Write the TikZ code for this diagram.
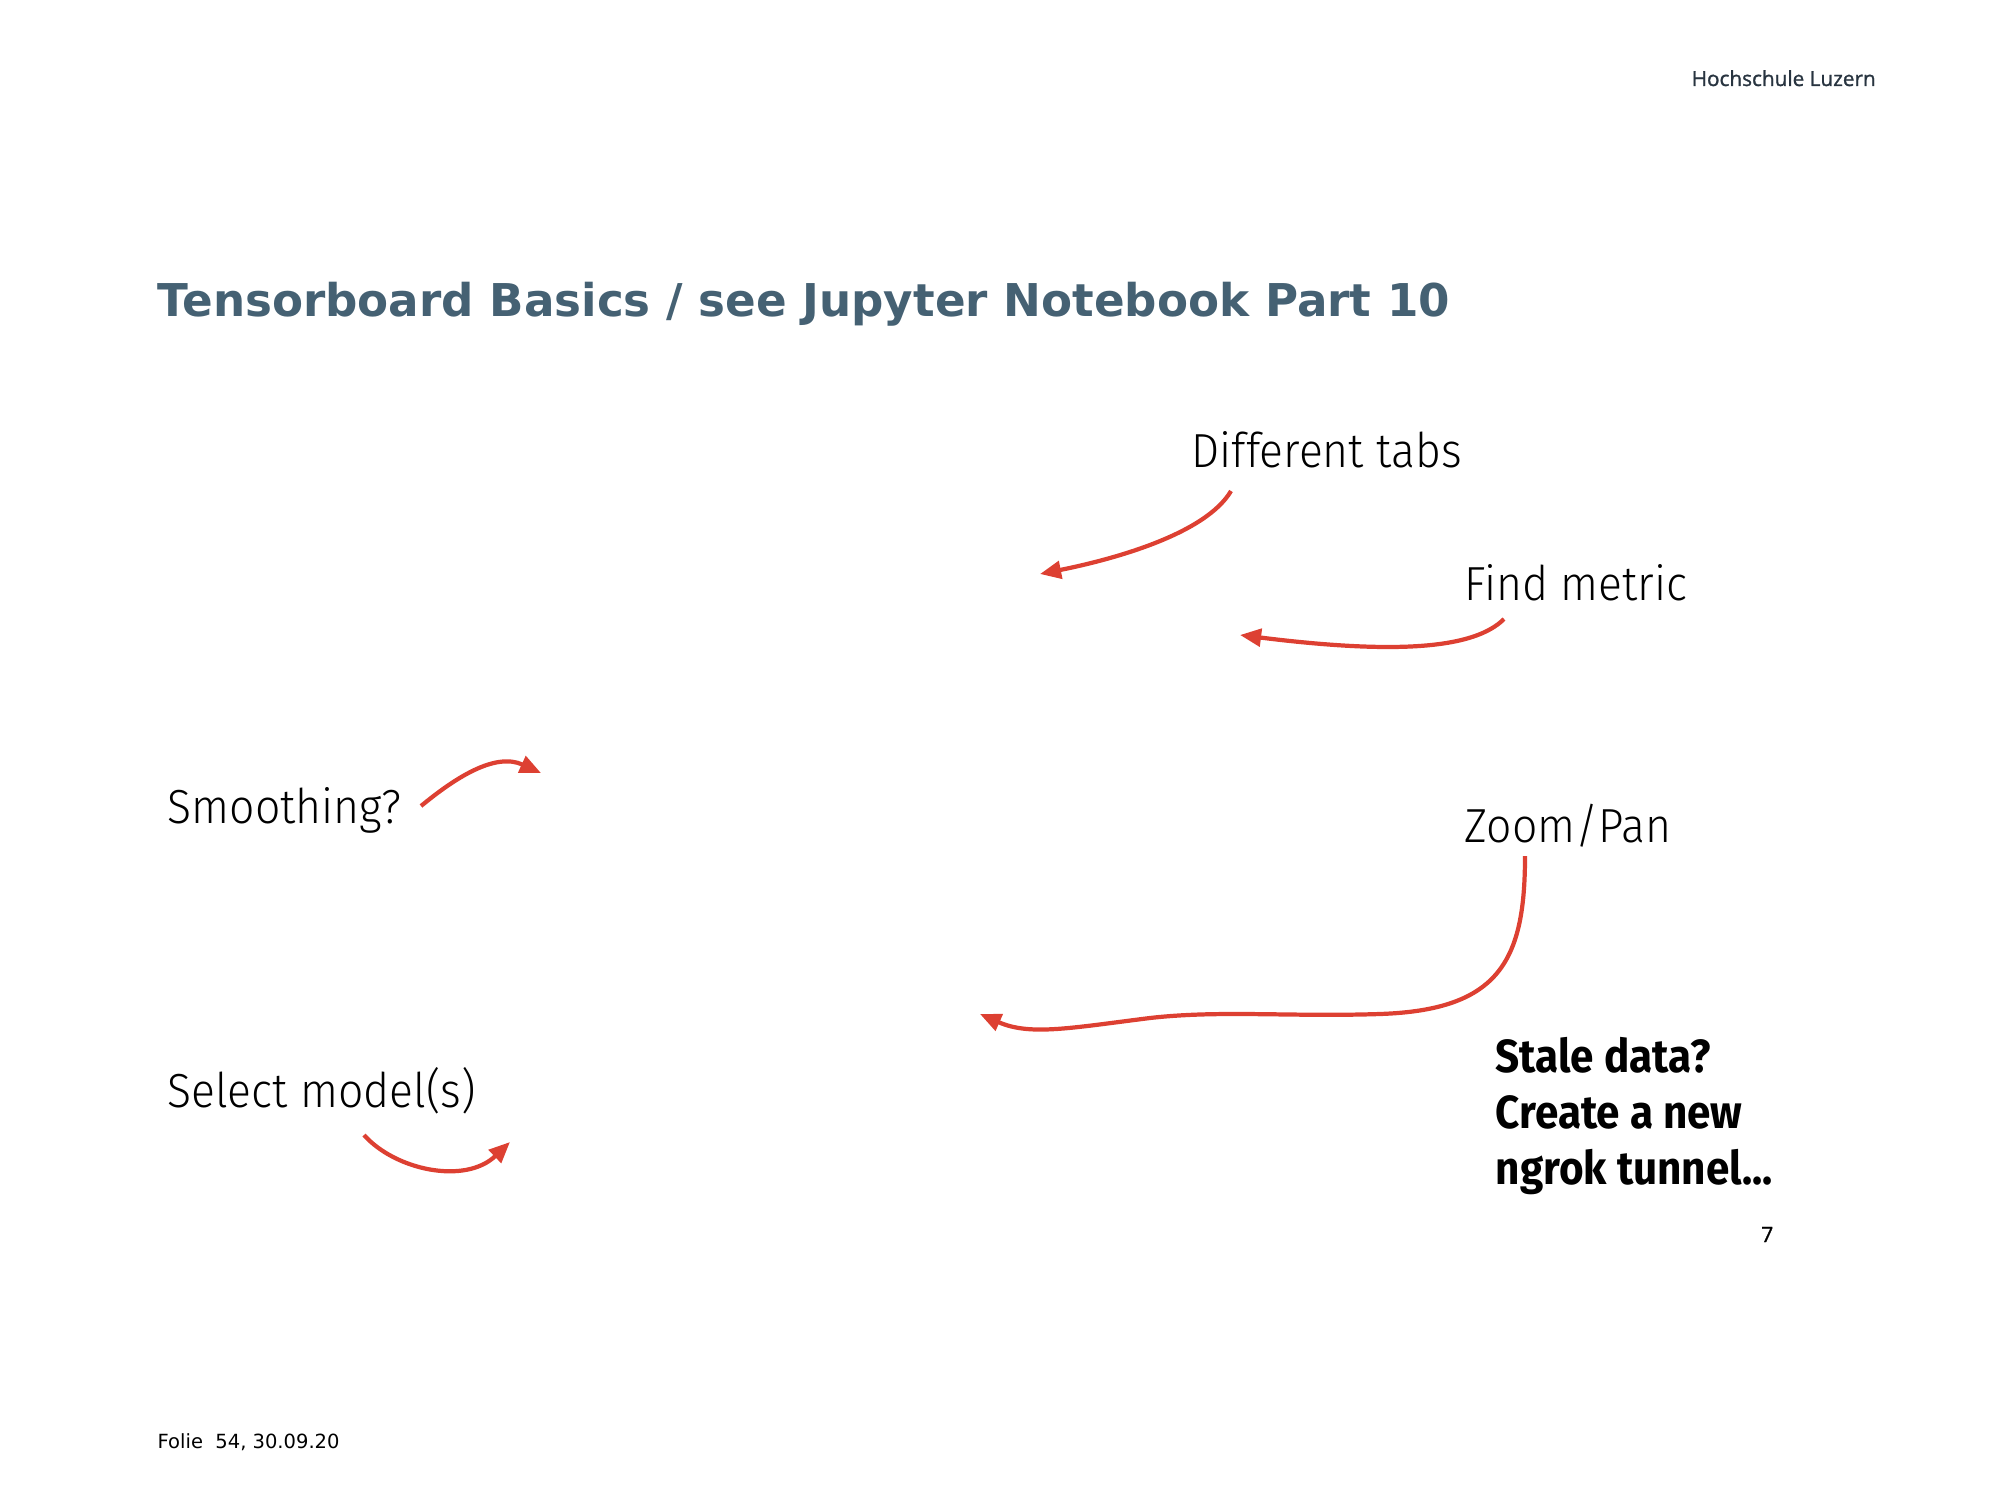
\documentclass[tikz,border=0pt]{standalone}
\usepackage{fontspec}
\usetikzlibrary{arrows.meta,calc}

\setmainfont{DejaVu Sans}
\newfontfamily\hdrfont[FakeBold=1.2]{Open Sans}
\newfontfamily\lblfont[FakeStretch=0.93]{Fira Sans Light}
\newfontfamily\notefont[FakeStretch=0.91]{Fira Sans}

\definecolor{hsluTitle}{RGB}{69,97,115}
\definecolor{hsluHead}{RGB}{40,52,64}
\definecolor{markRed}{RGB}{221,64,50}

\tikzset{
  lbl/.style={anchor=base west,inner sep=0pt,font=\lblfont\fontsize{13.6}{16}\selectfont},
  redarrow/.style={draw=markRed,line width=1.2pt,-{Triangle[length=6pt,width=5pt]}}
}

\begin{document}
\begin{tikzpicture}[x=0.01cm,y=-0.01cm]

  \useasboundingbox (0,0) rectangle (2000,1500);

  % slide frame
  \draw (1691,86) node [anchor=base west,inner sep=0pt,text=hsluHead,
    font=\hdrfont\fontsize{5.9}{7}\selectfont] (hslu) {Hochschule Luzern};

  \draw (157,316) node [anchor=base west,inner sep=0pt,text=hsluTitle,
    font=\bfseries\fontsize{12.85}{15}\selectfont] (title)
  {Tensorboard Basics / see Jupyter Notebook Part 10};

  \draw (157,1448) node [anchor=base west,inner sep=0pt,
    font=\fontsize{5.55}{7}\selectfont] (folie) {Folie\ \ 54, 30.09.20};

  \draw (1774,1242) node [anchor=base east,inner sep=0pt,
    font=\hdrfont\fontsize{6}{7}\selectfont] (pagenr) {7};

  % labels
  \draw (1191,467) node [lbl] (tabs) {Different tabs};
  \draw (1464,600) node [lbl] (metric) {Find metric};
  \draw (167,823) node [lbl] (smooth) {Smoothing?};
  \draw (1464,842) node [lbl] (zoom) {Zoom/Pan};
  \draw (167,1107) node [lbl] (select) {Select model(s)};

  \draw (1495,1184) node [anchor=base west,inner sep=0pt,align=left,
    font=\notefont\bfseries\fontsize{13.2}{15.9}\selectfont] (stale)
  {Stale data?\\Create a new\\ngrok tunnel...};

  % free ends of the arrows
  \coordinate (tabsTip) at (1040,574);
  \coordinate (metricTip) at (1240,635);
  \coordinate (smoothTip) at (541,773);
  \coordinate (zoomTip) at (980,1014);
  \coordinate (selectTip) at (510,1142);

  \draw[redarrow] ($(tabs.base west)+(40,24)$) .. controls (1205,535) and (1110,560) .. (tabsTip);
  \draw[redarrow] ($(metric.base west)+(40,19)$) .. controls (1475,648) and (1400,655) .. (metricTip);
  \draw[redarrow] ($(smooth.base west)+(254,-17)$) .. controls (455,778) and (495,752) .. (smoothTip);
  \draw[redarrow] ($(select.base west)+(197,28)$) .. controls (395,1170) and (465,1185) .. (selectTip);
  \draw[redarrow] ($(zoom.base west)+(61,14)$) .. controls (1525,960) and (1500,1010) .. (1380,1014)
    .. controls (1290,1017) and (1220,1010) .. (1150,1018)
    .. controls (1070,1028) and (1030,1036) .. (zoomTip);

\end{tikzpicture}
\end{document}
